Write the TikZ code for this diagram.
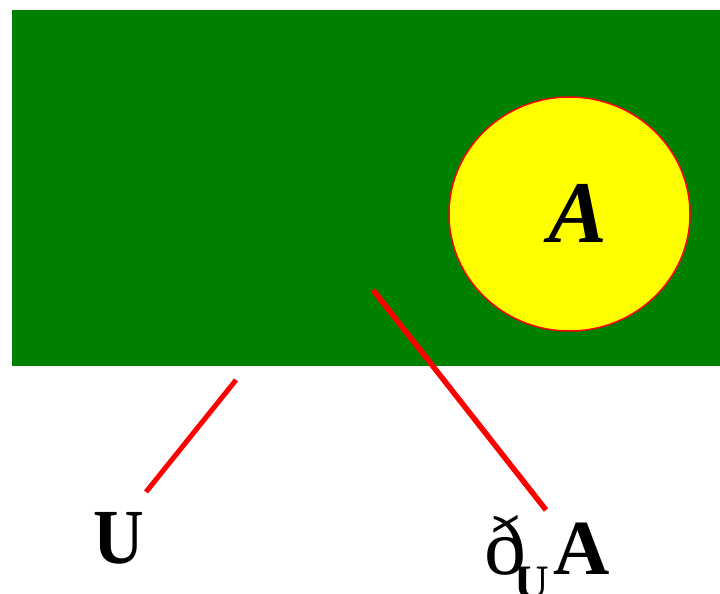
\documentclass[tikz,border=0pt]{standalone}
\usepackage{fontspec}
\setmainfont{Liberation Serif}
\usetikzlibrary{shapes.geometric}
\definecolor{rectgreen}{RGB}{0,128,0}
\definecolor{circyellow}{RGB}{255,255,0}
\definecolor{linered}{RGB}{255,0,0}
\tikzset{
  redline/.style={draw=linered, line cap=butt},
  bigtext/.style={inner sep=0pt, font=\fontsize{78}{96}\selectfont\bfseries},
}
\begin{document}
\begin{tikzpicture}[x=1pt,y=-1pt]
\useasboundingbox (0,0) rectangle (720,594);
\fill[white] (0,0) rectangle (720,594);
\node[fill=rectgreen, minimum width=708pt, minimum height=356pt, inner sep=0pt, anchor=north west] (rect) at (12,10) {};
\node[ellipse, fill=circyellow, draw=linered, line width=1.5pt, minimum width=241pt, minimum height=234pt, inner sep=0pt] (circ) at (569.5,214) {};
\node[bigtext, anchor=base, font=\fontsize{88}{100}\selectfont\bfseries\itshape] (labA) at (578,242) {A};
\coordinate (l1a) at (236,380);
\coordinate (l1b) at (146,492);
\coordinate (l2a) at (373,290);
\coordinate (l2b) at (546,510);
\draw[redline, line width=5pt] (l1a) -- (l1b);
\draw[redline, line width=5.5pt] (l2a) -- (l2b);
\node[bigtext, anchor=base west] (labU) at (93,563) {\scalebox{0.9}[1]{U}};
\node[bigtext, anchor=base west] (labdUA) at (484,574) {{\mdseries\fontsize{84}{96}\selectfont ð}\kern-12pt\raisebox{-0.32em}{\fontsize{48}{60}\selectfont U}\kern5pt A};
\end{tikzpicture}
\end{document}
